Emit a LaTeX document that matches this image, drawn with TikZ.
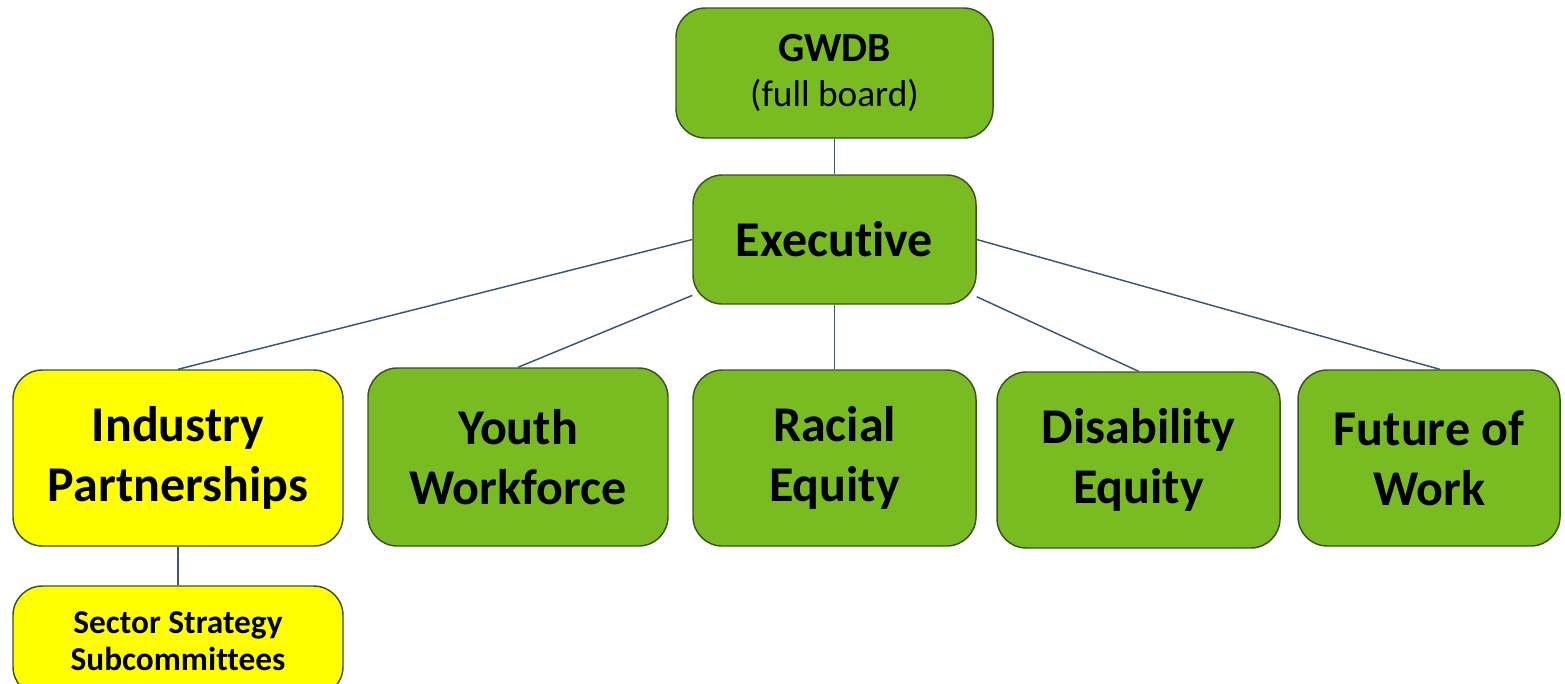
\documentclass[tikz,border=0pt]{standalone}
\usepackage{fontspec}
\setmainfont{Carlito}[Ligatures=NoCommon]
\usepackage{tikz}

\definecolor{boxgreen}{RGB}{120,188,34}
\definecolor{boxyellow}{RGB}{255,255,0}
\definecolor{boxline}{RGB}{60,82,40}
\definecolor{linkblue}{RGB}{59,86,115}

\tikzset{
    unit/.style={draw=boxline, line width=1.1pt, rounded corners=22pt, align=center, inner sep=0pt,
        font=\bfseries\fontsize{37.5}{45}\selectfont},
    greenunit/.style={unit, fill=boxgreen},
    yellowunit/.style={unit, fill=boxyellow},
    link/.style={draw=linkblue, line width=1.1pt}
}

\begin{document}
\begin{tikzpicture}[x=0.75pt,y=0.75pt,yscale=-1,xscale=1]
    \useasboundingbox (0,0) rectangle (1565,683);

        % board and executive
        \node [greenunit, minimum width=237.75pt, minimum height=97.5pt, font=\fontsize{28}{34}\selectfont] (gwdb) at (834.5,73) {\textbf{\fontsize{31}{34}\selectfont GWDB}\\(full board)};
        \node [greenunit, minimum width=212.25pt, minimum height=96.75pt] (exec) at (834.5,239.5) {Executive};

        % committees
        \node [yellowunit, minimum width=247.5pt, minimum height=132pt] (ind) at (178,458) {Industry\\Partnerships};
        \node [greenunit, minimum width=225pt, minimum height=133.5pt] (youth) at (518,457) {Youth\\Workforce};
        \node [greenunit, minimum width=212.25pt, minimum height=132pt] (racial) at (834.5,458) {Racial\\Equity};
        \node [greenunit, minimum width=212.25pt, minimum height=132pt] (disab) at (1138.5,460) {Disability\\Equity};
        \node [greenunit, minimum width=196.5pt, minimum height=132pt] (future) at (1429,458) {Future of\\Work};

        \node [yellowunit, minimum width=247.5pt, minimum height=82.5pt, font=\bfseries\fontsize{25}{28}\selectfont] (sector) at (178,641) {Sector Strategy\\Subcommittees};

        \draw [link] (gwdb.south) -- (exec.north);
        \draw [link] (exec.west) -- (ind.north);
        \draw [link] ([yshift=-7pt]exec.south west) -- (youth.north);
        \draw [link] (exec.south) -- (racial.north);
        \draw [link] ([yshift=-6pt]exec.south east) -- (disab.north);
        \draw [link] (exec.east) -- ([xshift=8pt]future.north);
        \draw [link] (ind.south) -- (sector.north);

\end{tikzpicture}
\end{document}
